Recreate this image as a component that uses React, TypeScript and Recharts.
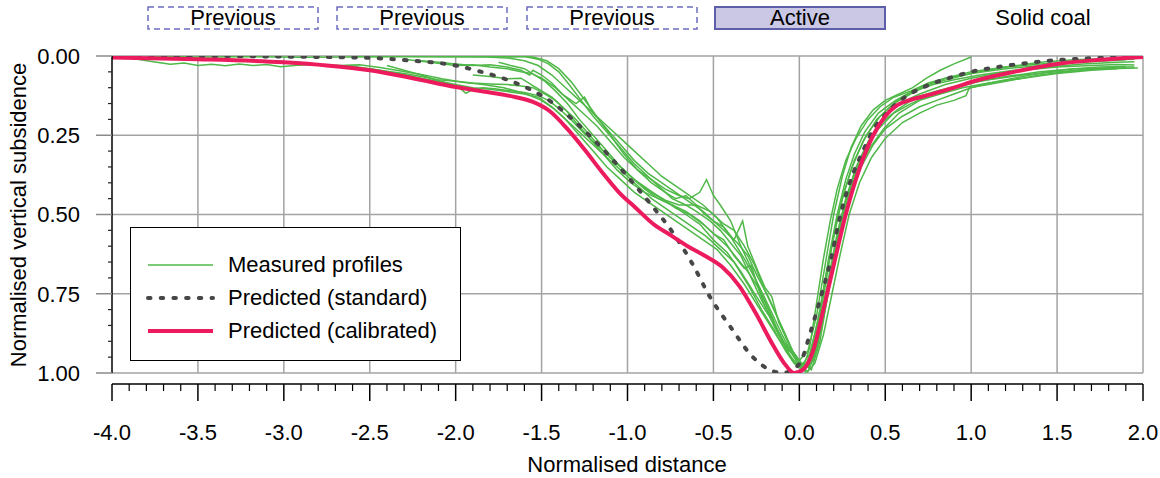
import React from 'react';
import { LineChart, Line, XAxis, YAxis, CartesianGrid, ReferenceLine } from 'recharts';

// axis ticks
const xMajor = [-4, -3.5, -3, -2.5, -2, -1.5, -1, -0.5, 0, 0.5, 1, 1.5, 2];
const yMajor = [0, 0.25, 0.5, 0.75, 1];
const xGrid = [-3.5, -3, -2.5, -2, -1.5, -1, -0.5, 0, 0.5, 1, 1.5, 2];

const xTicks: number[] = [];
for (let i = -40; i <= 20; i++) xTicks.push(i / 10);
const yTicks: number[] = [];
for (let i = 0; i <= 20; i++) yTicks.push(i / 20);

// predicted curves
const standard = [
  [-4, 0.0], [-3.5, 0.0], [-3.0, 0.002], [-2.5, 0.006], [-2.25, 0.015], [-2.0, 0.03], [-1.85, 0.05],
  [-1.7, 0.075], [-1.55, 0.11], [-1.43, 0.15], [-1.3, 0.21], [-1.15, 0.29], [-1.0, 0.38], [-0.87, 0.464],
  [-0.735, 0.558], [-0.625, 0.653], [-0.52, 0.76], [-0.4, 0.855], [-0.27, 0.95], [-0.15, 0.995], [-0.1, 1.0],
  [-0.04, 0.99], [0.02, 0.95], [0.06, 0.88], [0.12, 0.77], [0.18, 0.65], [0.24, 0.5], [0.3, 0.39],
  [0.37, 0.3], [0.43, 0.233], [0.5, 0.185], [0.57, 0.148], [0.66, 0.115], [0.76, 0.09], [0.88, 0.068],
  [1.0, 0.05], [1.24, 0.028], [1.5, 0.013], [1.75, 0.006], [2.0, 0.003],
];

const calibrated = [
  [-4, 0.005], [-3.5, 0.01], [-3.0, 0.02], [-2.75, 0.03], [-2.5, 0.045], [-2.25, 0.07], [-2.0, 0.098],
  [-1.8, 0.115], [-1.65, 0.13], [-1.55, 0.145], [-1.45, 0.175], [-1.35, 0.23], [-1.25, 0.295], [-1.15, 0.365],
  [-1.05, 0.43], [-0.95, 0.48], [-0.85, 0.53], [-0.75, 0.565], [-0.65, 0.6], [-0.55, 0.63], [-0.45, 0.665],
  [-0.35, 0.725], [-0.25, 0.815], [-0.15, 0.915], [-0.08, 0.975], [-0.03, 1.0], [0.02, 0.99], [0.08, 0.93],
  [0.14, 0.8], [0.2, 0.66], [0.27, 0.5], [0.35, 0.355], [0.43, 0.25], [0.5, 0.19], [0.57, 0.155],
  [0.65, 0.138], [0.76, 0.122], [0.9, 0.1], [1.0, 0.082], [1.25, 0.05], [1.5, 0.025], [1.75, 0.012], [2.0, 0.003],
];

// measured profiles
const m1 = [
  [-4.0, 0.004], [-3.88, 0.008], [-3.76, 0.018], [-3.66, 0.026], [-3.58, 0.022], [-3.5, 0.03], [-3.42, 0.026],
  [-3.34, 0.031], [-3.26, 0.025], [-3.18, 0.03], [-3.1, 0.027], [-3.02, 0.034], [-2.92, 0.029], [-2.8, 0.027],
  [-2.68, 0.03], [-2.56, 0.028], [-2.44, 0.036], [-2.32, 0.047], [-2.2, 0.058], [-2.08, 0.072], [-1.96, 0.083],
  [-1.84, 0.09], [-1.72, 0.1], [-1.6, 0.118], [-1.5, 0.14], [-1.42, 0.17], [-1.34, 0.21], [-1.26, 0.25],
  [-1.18, 0.29], [-1.1, 0.33], [-1.02, 0.37], [-0.94, 0.41], [-0.86, 0.45], [-0.78, 0.48], [-0.7, 0.51],
  [-0.62, 0.54], [-0.54, 0.57], [-0.46, 0.61], [-0.38, 0.65], [-0.3, 0.72], [-0.22, 0.8], [-0.14, 0.87],
  [-0.08, 0.93], [-0.03, 0.97], [0.02, 0.99], [0.07, 0.95], [0.12, 0.84], [0.17, 0.7], [0.22, 0.56],
  [0.27, 0.45], [0.33, 0.35], [0.4, 0.27], [0.48, 0.2], [0.58, 0.15], [0.7, 0.12], [0.85, 0.09], [1.0, 0.07],
  [1.15, 0.055], [1.3, 0.045], [1.5, 0.035], [1.7, 0.03], [1.85, 0.027], [1.95, 0.028],
];
const m2 = [
  [-3.8, 0.001], [-3.5, 0.003], [-3.2, 0.002], [-2.9, 0.004], [-2.6, 0.003], [-2.3, 0.002], [-2.05, 0.003],
  [-1.85, 0.002], [-1.7, 0.006], [-1.6, 0.015], [-1.52, 0.03], [-1.44, 0.06], [-1.36, 0.1], [-1.28, 0.14],
  [-1.2, 0.18], [-1.12, 0.22], [-1.04, 0.26], [-0.96, 0.3], [-0.88, 0.34], [-0.8, 0.38], [-0.72, 0.41],
  [-0.64, 0.44], [-0.56, 0.47], [-0.48, 0.51], [-0.4, 0.57], [-0.32, 0.64], [-0.24, 0.72], [-0.16, 0.81],
  [-0.1, 0.88], [-0.04, 0.94], [0.0, 0.96], [0.05, 0.93], [0.1, 0.82], [0.15, 0.66], [0.2, 0.5], [0.25, 0.38],
  [0.3, 0.29], [0.36, 0.22], [0.43, 0.17], [0.5, 0.14], [0.58, 0.12], [0.66, 0.1], [0.74, 0.07],
  [0.82, 0.045], [0.9, 0.025], [1.0, 0.003],
];
const m3 = [
  [-2.6, 0.0], [-2.3, 0.001], [-2.0, 0.0], [-1.8, 0.002], [-1.65, 0.0], [-1.55, 0.003], [-1.47, 0.015],
  [-1.4, 0.04], [-1.33, 0.08], [-1.26, 0.13], [-1.18, 0.19], [-1.1, 0.25], [-1.02, 0.31], [-0.94, 0.36],
  [-0.86, 0.4], [-0.78, 0.43], [-0.72, 0.45], [-0.66, 0.44], [-0.6, 0.47], [-0.55, 0.5], [-0.5, 0.52],
  [-0.44, 0.54], [-0.38, 0.58], [-0.33, 0.52], [-0.3, 0.6], [-0.24, 0.68], [-0.2, 0.73], [-0.16, 0.76],
  [-0.12, 0.84], [-0.06, 0.91], [-0.01, 0.96], [0.04, 0.98], [0.09, 0.9], [0.14, 0.76], [0.19, 0.6],
  [0.24, 0.47], [0.3, 0.36], [0.37, 0.27], [0.45, 0.2], [0.55, 0.15], [0.68, 0.11], [0.82, 0.08],
  [1.0, 0.055], [1.2, 0.04], [1.4, 0.03], [1.6, 0.02], [1.8, 0.015], [1.9, 0.012],
];
const m4 = [
  [-2.3, 0.01], [-2.15, 0.02], [-2.0, 0.03], [-1.9, 0.028], [-1.8, 0.035], [-1.7, 0.04], [-1.62, 0.05],
  [-1.56, 0.055], [-1.5, 0.07], [-1.42, 0.1], [-1.34, 0.14], [-1.26, 0.18], [-1.18, 0.22], [-1.1, 0.27],
  [-1.02, 0.32], [-0.94, 0.36], [-0.86, 0.39], [-0.78, 0.42], [-0.7, 0.44], [-0.64, 0.45], [-0.58, 0.43],
  [-0.54, 0.39], [-0.5, 0.44], [-0.46, 0.47], [-0.4, 0.52], [-0.34, 0.6], [-0.28, 0.67], [-0.22, 0.75],
  [-0.16, 0.82], [-0.1, 0.9], [-0.04, 0.96], [0.01, 0.98], [0.06, 0.94], [0.11, 0.83], [0.16, 0.68],
  [0.21, 0.54], [0.26, 0.43], [0.32, 0.33], [0.39, 0.25], [0.47, 0.19], [0.57, 0.14], [0.7, 0.1],
  [0.85, 0.07], [1.0, 0.05], [1.2, 0.035], [1.4, 0.025], [1.6, 0.018], [1.8, 0.012], [1.95, 0.01],
];
const m5 = [
  [-2.5, 0.04], [-2.4, 0.05], [-2.3, 0.058], [-2.2, 0.07], [-2.1, 0.08], [-2.0, 0.09], [-1.9, 0.1],
  [-1.8, 0.105], [-1.7, 0.112], [-1.6, 0.12], [-1.52, 0.13], [-1.44, 0.16], [-1.36, 0.2], [-1.28, 0.25],
  [-1.2, 0.3], [-1.12, 0.35], [-1.04, 0.39], [-0.96, 0.43], [-0.88, 0.46], [-0.8, 0.49], [-0.72, 0.52],
  [-0.64, 0.55], [-0.56, 0.58], [-0.48, 0.61], [-0.4, 0.66], [-0.32, 0.72], [-0.24, 0.79], [-0.17, 0.85],
  [-0.1, 0.91], [-0.05, 0.95], [0.0, 0.98], [0.05, 0.995], [0.1, 0.93], [0.15, 0.8], [0.2, 0.66],
  [0.25, 0.54], [0.3, 0.44], [0.36, 0.35], [0.43, 0.28], [0.5, 0.23], [0.6, 0.19], [0.7, 0.16], [0.8, 0.14],
  [0.9, 0.12], [1.0, 0.1], [1.15, 0.08], [1.3, 0.065], [1.45, 0.05], [1.6, 0.04], [1.75, 0.035], [1.9, 0.033],
];
const m6 = [
  [-1.9, 0.06], [-1.8, 0.065], [-1.7, 0.072], [-1.62, 0.07], [-1.56, 0.09], [-1.5, 0.11], [-1.44, 0.13],
  [-1.38, 0.16], [-1.3, 0.2], [-1.22, 0.25], [-1.14, 0.3], [-1.06, 0.34], [-0.98, 0.38], [-0.9, 0.42],
  [-0.82, 0.45], [-0.74, 0.47], [-0.66, 0.49], [-0.58, 0.52], [-0.5, 0.56], [-0.42, 0.6], [-0.36, 0.64],
  [-0.3, 0.68], [-0.24, 0.73], [-0.18, 0.8], [-0.12, 0.88], [-0.06, 0.93], [0.0, 0.96], [0.04, 1.0],
  [0.09, 0.97], [0.14, 0.88], [0.19, 0.75], [0.24, 0.62], [0.29, 0.5], [0.35, 0.4], [0.42, 0.32],
  [0.5, 0.26], [0.6, 0.21], [0.7, 0.18], [0.8, 0.155], [0.9, 0.14], [0.97, 0.125], [0.99, 0.1],
  [1.1, 0.09], [1.25, 0.075], [1.4, 0.06], [1.55, 0.05], [1.7, 0.04], [1.85, 0.035], [1.95, 0.035],
];
const m7 = [
  [-2.4, 0.03], [-2.3, 0.045], [-2.2, 0.06], [-2.12, 0.075], [-2.05, 0.085], [-1.98, 0.1], [-1.94, 0.118],
  [-1.9, 0.105], [-1.84, 0.1], [-1.76, 0.104], [-1.68, 0.11], [-1.6, 0.115], [-1.52, 0.125], [-1.46, 0.14],
  [-1.4, 0.165], [-1.33, 0.2], [-1.26, 0.24], [-1.18, 0.28], [-1.1, 0.32], [-1.02, 0.36], [-0.94, 0.4],
  [-0.86, 0.43], [-0.78, 0.455], [-0.7, 0.47], [-0.6, 0.47], [-0.52, 0.49], [-0.44, 0.53], [-0.38, 0.55],
  [-0.32, 0.6], [-0.26, 0.66], [-0.2, 0.74], [-0.14, 0.81], [-0.09, 0.87], [-0.04, 0.93], [0.01, 0.97],
  [0.06, 0.98], [0.11, 0.9], [0.16, 0.75], [0.21, 0.6], [0.26, 0.48], [0.31, 0.39], [0.38, 0.3],
  [0.46, 0.23], [0.55, 0.18], [0.65, 0.15], [0.78, 0.12], [0.9, 0.1], [1.05, 0.08], [1.2, 0.065],
  [1.4, 0.05], [1.6, 0.04], [1.8, 0.04], [1.97, 0.038],
];
const m8 = [
  [-2.0, 0.0], [-1.8, 0.0], [-1.68, 0.003], [-1.6, 0.002], [-1.52, 0.01], [-1.46, 0.025], [-1.4, 0.05],
  [-1.34, 0.09], [-1.27, 0.14], [-1.2, 0.19], [-1.12, 0.24], [-1.04, 0.29], [-0.96, 0.34], [-0.88, 0.38],
  [-0.8, 0.42], [-0.74, 0.45], [-0.66, 0.47], [-0.6, 0.49], [-0.52, 0.52], [-0.46, 0.55], [-0.4, 0.59],
  [-0.34, 0.63], [-0.28, 0.7], [-0.22, 0.77], [-0.16, 0.83], [-0.11, 0.88], [-0.06, 0.94], [-0.02, 0.97],
  [0.02, 0.99], [0.06, 0.92], [0.1, 0.78], [0.14, 0.64], [0.18, 0.52], [0.22, 0.42], [0.27, 0.33],
  [0.33, 0.26], [0.4, 0.2], [0.47, 0.16], [0.55, 0.13], [0.65, 0.11], [0.75, 0.085], [0.85, 0.07],
  [1.0, 0.055], [1.2, 0.035], [1.4, 0.02], [1.6, 0.012], [1.8, 0.008], [1.9, 0.006],
];
const m9 = [
  [-1.75, 0.02], [-1.68, 0.03], [-1.6, 0.04], [-1.54, 0.06], [-1.48, 0.08], [-1.42, 0.11], [-1.35, 0.15],
  [-1.28, 0.2], [-1.2, 0.25], [-1.12, 0.3], [-1.04, 0.35], [-0.96, 0.39], [-0.88, 0.42], [-0.8, 0.45],
  [-0.72, 0.48], [-0.64, 0.5], [-0.56, 0.53], [-0.5, 0.56], [-0.44, 0.58], [-0.38, 0.63], [-0.32, 0.67],
  [-0.28, 0.66], [-0.24, 0.73], [-0.2, 0.79], [-0.14, 0.86], [-0.08, 0.91], [-0.03, 0.95], [0.02, 0.97],
  [0.07, 0.99], [0.12, 0.9], [0.17, 0.74], [0.22, 0.58], [0.27, 0.46], [0.33, 0.36], [0.4, 0.28],
  [0.48, 0.21], [0.57, 0.17], [0.68, 0.13], [0.8, 0.11], [0.95, 0.09], [1.1, 0.075], [1.3, 0.06],
  [1.5, 0.05], [1.7, 0.042], [1.9, 0.038],
];
const m10 = [
  [-2.2, 0.015], [-2.1, 0.02], [-2.0, 0.025], [-1.9, 0.03], [-1.8, 0.028], [-1.7, 0.035], [-1.62, 0.045],
  [-1.57, 0.06], [-1.55, 0.045], [-1.5, 0.06], [-1.44, 0.085], [-1.38, 0.12], [-1.3, 0.15], [-1.25, 0.13],
  [-1.2, 0.18], [-1.12, 0.23], [-1.04, 0.28], [-0.96, 0.33], [-0.88, 0.37], [-0.8, 0.4], [-0.72, 0.43],
  [-0.64, 0.46], [-0.56, 0.49], [-0.48, 0.53], [-0.42, 0.56], [-0.36, 0.59], [-0.3, 0.63], [-0.24, 0.7],
  [-0.18, 0.76], [-0.13, 0.82], [-0.08, 0.88], [-0.04, 0.93], [0.0, 0.96], [0.03, 0.99], [0.07, 0.93],
  [0.12, 0.8], [0.17, 0.64], [0.22, 0.5], [0.27, 0.39], [0.32, 0.31], [0.38, 0.24], [0.46, 0.18],
  [0.56, 0.14], [0.66, 0.11], [0.78, 0.09], [0.9, 0.075], [1.05, 0.06], [1.25, 0.045], [1.45, 0.035],
  [1.65, 0.025], [1.85, 0.02], [1.95, 0.018],
];
const m11 = [
  [-2.7, 0.03], [-2.6, 0.032], [-2.5, 0.04], [-2.4, 0.048], [-2.3, 0.055], [-2.2, 0.065], [-2.1, 0.075],
  [-2.0, 0.08], [-1.9, 0.085], [-1.8, 0.088], [-1.7, 0.09], [-1.62, 0.095], [-1.55, 0.1], [-1.48, 0.12],
  [-1.42, 0.14], [-1.36, 0.17], [-1.3, 0.21], [-1.22, 0.26], [-1.14, 0.31], [-1.06, 0.36], [-0.98, 0.4],
  [-0.9, 0.43], [-0.82, 0.45], [-0.74, 0.47], [-0.66, 0.5], [-0.58, 0.53], [-0.5, 0.58], [-0.42, 0.62],
  [-0.34, 0.68], [-0.26, 0.75], [-0.2, 0.8], [-0.14, 0.85], [-0.1, 0.9], [-0.06, 0.92], [-0.02, 0.96],
  [0.03, 0.99], [0.08, 0.96], [0.13, 0.85], [0.18, 0.7], [0.23, 0.56], [0.28, 0.45], [0.34, 0.36],
  [0.41, 0.29], [0.49, 0.23], [0.58, 0.18], [0.7, 0.14], [0.82, 0.12], [0.95, 0.1], [1.1, 0.085],
  [1.3, 0.07], [1.5, 0.055], [1.7, 0.045], [1.85, 0.04],
];

const measured = [m1, m2, m3, m4, m5, m6, m7, m8, m9, m10, m11];

const buttons = ['Previous', 'Previous', 'Previous', 'Active'];
const buttonLeft = [147, 336, 526, 714];

const GREEN = '#4fb848';
const PINK = '#ec1b5e';
const DOTS = '#474747';
const GRID = '#a3a3a3';
const FONT = '"Liberation Sans", Arial, Helvetica, sans-serif';

const toPts = (a: number[][]) => a.map(([x, y]) => ({ x, y }));

const isMajor = (v: number, step: number) => Math.abs(v / step - Math.round(v / step)) < 1e-6;

const YTick = (props: any) => {
  const { x, y, payload } = props;
  const v = payload.value;
  if (isMajor(v, 0.25)) {
    return (
      <g>
        <line x1={x - 16} x2={x} y1={y} y2={y} stroke="#8a8a8a" strokeWidth={1.5} />
        <text x={x - 32} y={y} dy="0.36em" textAnchor="end" fontSize={22} fontFamily={FONT} fill="#000">
          {v.toFixed(2)}
        </text>
      </g>
    );
  }
  return <line x1={x - 4} x2={x} y1={y} y2={y} stroke="#222" strokeWidth={1.2} />;
};

const XTick = (props: any) => {
  const { x, y, payload } = props;
  const v = payload.value;
  if (isMajor(v, 0.5)) {
    return (
      <g>
        <line x1={x} x2={x} y1={y + 11} y2={y + 28} stroke="#000" strokeWidth={1.5} />
        <text x={x} y={y + 59} dy="0.36em" textAnchor="middle" fontSize={22} fontFamily={FONT} fill="#000">
          {v.toFixed(1)}
        </text>
      </g>
    );
  }
  return <line x1={x} x2={x} y1={y + 11} y2={y + 18} stroke="#000" strokeWidth={1.2} />;
};

export default function App() {
  return (
    <div style={{ position: 'absolute', left: 0, top: 0, width: 1160, height: 478, background: '#fff', fontFamily: FONT }}>
      <LineChart width={1160} height={478} margin={{ top: 56, right: 17, bottom: 25, left: 12 }}>
        <CartesianGrid
          stroke={GRID}
          strokeWidth={1.5}
          horizontalValues={yMajor}
          verticalValues={xGrid}
        />
        <XAxis
          type="number"
          dataKey="x"
          domain={[-4, 2]}
          ticks={xTicks}
          interval={0}
          tick={<XTick />}
          tickLine={false}
          axisLine={false}
          tickSize={0}
          tickMargin={0}
          height={80}
          allowDataOverflow
          label={{
            content: () => (
              <text x={627} y={464} dy="0.36em" textAnchor="middle" fontSize={22} fontFamily={FONT} fill="#000">
                Normalised distance
              </text>
            ),
          }}
        />
        <YAxis
          type="number"
          domain={[0, 1]}
          reversed
          ticks={yTicks}
          interval={0}
          tick={<YTick />}
          tickLine={false}
          axisLine={{ stroke: '#000', strokeWidth: 1.5 }}
          tickSize={0}
          tickMargin={0}
          width={100}
          allowDataOverflow
          label={{
            content: () => (
              <text
                x={18}
                y={215}
                transform="rotate(-90 18 215)"
                dominantBaseline="central"
                textAnchor="middle"
                fontSize={22}
                fontFamily={FONT}
                fill="#000"
              >
                Normalised vertical subsidence
              </text>
            ),
          }}
        />
        <ReferenceLine y={1.035} ifOverflow="visible" stroke="#000" strokeWidth={1.5} />
        {measured.map((m, i) => (
          <Line
            key={`m${i}`}
            data={toPts(m)}
            dataKey="y"
            type="linear"
            stroke={GREEN}
            strokeWidth={1.5}
            dot={false}
            activeDot={false}
            isAnimationActive={false}
          />
        ))}
        <Line
          data={toPts(standard)}
          dataKey="y"
          type="monotone"
          stroke={DOTS}
          strokeWidth={4}
          strokeDasharray="2.5 10.2"
          strokeLinecap="round"
          dot={false}
          activeDot={false}
          isAnimationActive={false}
        />
        <Line
          data={toPts(calibrated)}
          dataKey="y"
          type="monotone"
          stroke={PINK}
          strokeWidth={4}
          dot={false}
          activeDot={false}
          isAnimationActive={false}
        />
      </LineChart>

      {buttons.map((b, i) => {
        const active = b === 'Active';
        return (
          <div key={i} style={{ position: 'absolute', left: buttonLeft[i], top: 6, width: 172, height: 24 }}>
            <svg width={172} height={24} style={{ position: 'absolute', left: 0, top: 0 }}>
              <rect
                x={1}
                y={1}
                width={170}
                height={22}
                fill={active ? '#cbc8e6' : 'none'}
                stroke={active ? '#5c5ea8' : '#6c6cc2'}
                strokeWidth={active ? 2 : 1.5}
                strokeDasharray={active ? undefined : '6 4'}
              />
            </svg>
            <div style={{ position: 'absolute', left: 0, top: 0, width: 172, textAlign: 'center', fontSize: 22, lineHeight: '24px', color: '#000' }}>
              {b}
            </div>
          </div>
        );
      })}
      <div style={{ position: 'absolute', left: 990, top: 6, width: 106, textAlign: 'center', fontSize: 22, lineHeight: '24px', color: '#000' }}>
        Solid coal
      </div>

      <div
        style={{
          position: 'absolute',
          left: 130,
          top: 227,
          width: 331,
          height: 134,
          boxSizing: 'border-box',
          border: '1.5px solid #000',
          background: '#fff',
        }}
      >
        {[
          { label: 'Measured profiles', color: GREEN, w: 1.5, dash: undefined },
          { label: 'Predicted (standard)', color: DOTS, w: 4, dash: '2.5 10.2' },
          { label: 'Predicted (calibrated)', color: PINK, w: 4, dash: undefined },
        ].map((e, i) => (
          <div key={i} style={{ position: 'absolute', left: 0, top: 24 + i * 33, height: 26, width: 330 }}>
            <svg width={80} height={26} style={{ position: 'absolute', left: 14, top: 0 }}>
              <line x1={3} x2={68} y1={13} y2={13} stroke={e.color} strokeWidth={e.w} strokeDasharray={e.dash} strokeLinecap={e.dash ? 'round' : 'butt'} />
            </svg>
            <span style={{ position: 'absolute', left: 97, top: 0, fontSize: 22, lineHeight: '26px', whiteSpace: 'nowrap', color: '#000' }}>
              {e.label}
            </span>
          </div>
        ))}
      </div>
    </div>
  );
}
